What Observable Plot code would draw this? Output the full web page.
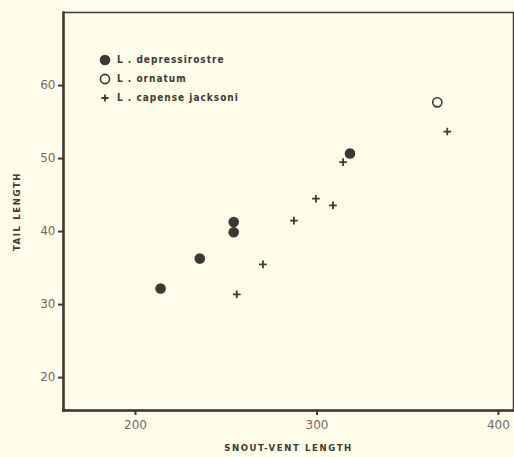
<!DOCTYPE html>
<html><head><meta charset="utf-8">
<script src="https://cdn.jsdelivr.net/npm/d3@7"></script>
<script src="https://cdn.jsdelivr.net/npm/@observablehq/plot@0.6"></script>
<style>
html,body{margin:0;padding:0;background:#fefde9;}
#wrap{position:relative;width:514px;height:457px;}
#legend{position:absolute;left:98px;top:50px;font:bold 10px "DejaVu Sans Condensed","DejaVu Sans",sans-serif;letter-spacing:1px;color:#3d3833;}
#legend .row{display:flex;align-items:center;height:19px;}
#legend svg{margin-right:5px;}
g[aria-label="x-axis label"] text, g[aria-label="y-axis label"] text{font:bold 9.5px "DejaVu Sans Condensed","DejaVu Sans",sans-serif;letter-spacing:1.6px;fill:#3d3833;}
g[aria-label="x-axis tick label"] text, g[aria-label="y-axis tick label"] text{font:12px "DejaVu Sans","Liberation Sans",sans-serif;fill:#6e6a63;}
</style></head><body><div id="wrap"><div id="legend"></div></div>
<script>
// Data
const species = ["L. depressirostre", "L. ornatum", "L. capense jacksoni"];
const depressSVL = [213.8, 235.4, 254.1, 254.1, 318.2];
const depressTail = [32.2, 36.3, 41.3, 39.9, 50.7];
const ornatumSVL = [366.3];
const ornatumTail = [57.7];
const capenseSVL = [255.8, 270.2, 287.3, 299.4, 308.8, 314.4, 371.8];
const capenseTail = [31.4, 35.5, 41.5, 44.5, 43.6, 49.5, 53.7];
const xTicks = [200, 300, 400];
const yTicks = [20, 30, 40, 50, 60];

const ink = "#3d3833";
const toRows = (xs, ys, s) => xs.map((x, i) => ({svl: x, tail: ys[i], species: s}));
const dep = toRows(depressSVL, depressTail, species[0]);
const orn = toRows(ornatumSVL, ornatumTail, species[1]);
const cap = toRows(capenseSVL, capenseTail, species[2]);

const chart = Plot.plot({
  width: 514, height: 457,
  marginLeft: 63, marginRight: 1, marginTop: 12, marginBottom: 47,
  style: {background: "#fefde9"},
  x: {domain: [160.3, 408.3]},
  y: {domain: [15.5, 70]},
  marks: [
    Plot.frame({stroke: ink, strokeWidth: 1.5}),
    Plot.frame({anchor: "left", stroke: ink, strokeWidth: 2.5}),
    Plot.frame({anchor: "bottom", stroke: ink, strokeWidth: 2.5}),
    Plot.axisX({ticks: xTicks, tickSize: 5, tickPadding: 5, stroke: ink, strokeWidth: 2,
      label: "SNOUT-VENT LENGTH", labelAnchor: "center", labelArrow: "none", labelOffset: 40}),
    Plot.axisY({ticks: yTicks, tickSize: 5, tickPadding: 3, stroke: ink, strokeWidth: 2,
      label: "TAIL LENGTH", labelAnchor: "center", labelArrow: "none", labelOffset: 50}),
    Plot.dot(dep, {x: "svl", y: "tail", r: 5.3, fill: ink, stroke: "none"}),
    Plot.dot(orn, {x: "svl", y: "tail", r: 4.6, fill: "none", stroke: ink, strokeWidth: 1.6}),
    Plot.dot(cap, {x: "svl", y: "tail", r: 2.6, symbol: "plus", stroke: ink, strokeWidth: 1.8})
  ]
});
document.getElementById("wrap").prepend(chart);

const symbols = [
  '<circle cx="7" cy="7" r="5.3" fill="' + ink + '"/>',
  '<circle cx="7" cy="7" r="4.6" fill="none" stroke="' + ink + '" stroke-width="1.6"/>',
  '<path d="M7 3.5V10.5M3.5 7H10.5" stroke="' + ink + '" stroke-width="1.8"/>'
];
const legend = document.getElementById("legend");
species.forEach((s, i) => {
  const row = document.createElement("div");
  row.className = "row";
  row.innerHTML = '<svg width="14" height="14">' + symbols[i] + '</svg><span>' + s.replace(". ", " . ") + '</span>';
  legend.appendChild(row);
});
</script>
</body></html>
